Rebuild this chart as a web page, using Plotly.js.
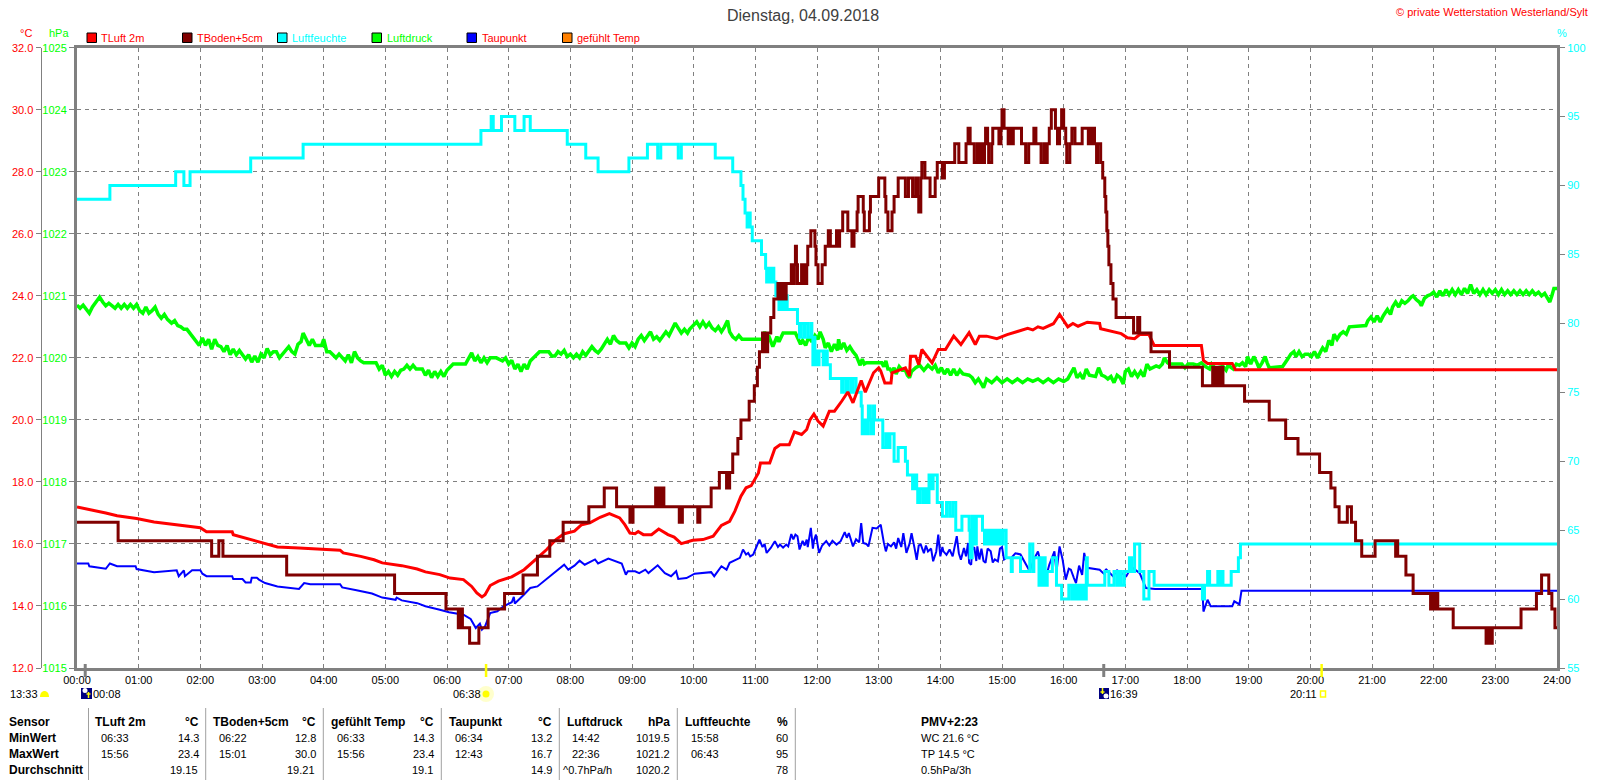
<!DOCTYPE html>
<html>
<head>
<meta charset="utf-8">
<script src="https://cdn.plot.ly/plotly-3.0.1.min.js"></script>
<style>html,body{margin:0;padding:0;background:#fff}#chart{width:1600px;height:780px}</style>
</head>
<body>
<div id="chart"></div>
<script>
// [minute of day, value]
const tBoden = [[0,16.7],[40,16.1],[131,15.6],[138,16.1],[142,15.6],[204,15.0],[309,14.4],[359,13.9],[371,13.3],[372,13.9],[373,13.3],[374,13.9],[375,13.3],[382,12.8],[391,13.3],[400,13.9],[416,14.4],[434,15.0],[448,15.6],[460,16.1],[473,16.7],[498,17.2],[513,17.8],[525,17.2],[538,16.7],[539,17.2],[540,16.7],[541,17.2],[563,17.8],[564,17.2],[565,17.8],[566,17.2],[567,17.8],[568,17.2],[569,17.8],[571,17.2],[586,16.7],[587,17.2],[588,16.7],[589,17.2],[604,16.7],[606,17.2],[617,17.8],[625,18.3],[632,17.8],[633,18.3],[634,17.8],[635,18.3],[638,18.9],[643,19.4],[646,20.0],[654,20.6],[659,21.1],[662,21.7],[664,22.2],[667,22.8],[668,22.2],[669,22.8],[670,22.2],[672,22.8],[675,23.3],[678,23.9],[682,24.4],[684,23.9],[685,24.4],[686,23.9],[687,24.4],[688,23.9],[690,24.4],[695,25.0],[697,24.4],[698,25.0],[699,25.6],[700,25.0],[701,24.4],[705,25.0],[706,24.4],[707,25.0],[709,24.4],[710,25.0],[711,25.6],[714,26.1],[718,25.6],[719,25.0],[721,24.4],[725,25.0],[728,25.6],[731,26.1],[733,25.6],[739,26.1],[741,25.6],[742,26.1],[745,26.7],[750,26.1],[754,25.6],[756,26.1],[759,26.7],[760,27.2],[765,26.7],[766,26.1],[771,26.7],[772,27.2],[780,27.8],[786,27.2],[787,26.7],[789,26.1],[793,26.7],[795,27.2],[799,27.8],[806,27.2],[809,27.8],[813,27.2],[816,27.8],[818,27.2],[819,26.7],[821,27.8],[822,28.3],[825,27.8],[830,27.2],[835,27.8],[837,28.3],[842,27.8],[844,28.3],[854,28.9],[858,28.3],[865,28.9],[867,29.4],[869,28.9],[873,28.3],[876,28.9],[877,28.3],[879,28.9],[881,28.3],[883,28.9],[884,29.4],[886,28.9],[887,28.3],[890,28.9],[891,29.4],[897,28.9],[899,29.4],[900,30.0],[902,29.4],[906,28.9],[907,29.4],[909,28.9],[911,29.4],[919,28.9],[923,28.3],[926,28.9],[931,29.4],[933,28.9],[938,28.3],[941,28.9],[942,28.3],[944,28.9],[946,29.4],[948,30.0],[952,29.4],[954,28.9],[956,29.4],[958,30.0],[960,29.4],[962,28.9],[963,28.3],[966,28.9],[968,29.4],[971,28.9],[978,29.4],[984,28.9],[985,29.4],[987,28.9],[988,29.4],[990,28.9],[992,28.3],[993,28.9],[996,28.3],[998,27.8],[1000,27.2],[1001,26.7],[1002,26.1],[1003,25.6],[1004,25.0],[1006,24.4],[1008,23.9],[1011,23.3],[1028,22.8],[1032,23.3],[1034,22.8],[1045,22.2],[1063,21.7],[1095,21.1],[1105,21.7],[1106,21.1],[1107,21.7],[1108,21.1],[1109,21.7],[1110,21.1],[1111,21.7],[1112,21.1],[1113,21.7],[1115,21.1],[1136,20.6],[1160,20.0],[1176,19.4],[1188,18.9],[1209,18.3],[1220,17.8],[1224,17.2],[1228,16.7],[1236,17.2],[1240,16.7],[1244,16.1],[1250,15.6],[1263,16.1],[1283,15.6],[1284,16.1],[1285,15.6],[1293,15.0],[1300,14.4],[1317,13.9],[1318,14.4],[1319,13.9],[1320,14.4],[1321,13.9],[1322,14.4],[1324,13.9],[1339,13.3],[1371,12.8],[1373,13.3],[1374,12.8],[1375,13.3],[1376,12.8],[1377,13.3],[1405,13.9],[1420,14.4],[1425,15.0],[1432,14.4],[1435,13.9],[1438,13.3],[1440,13.3]];

const tLuft = [[0,17.19],[13,17.11],[28,17.0],[39,16.91],[58,16.82],[75,16.71],[97,16.62],[120,16.52],[126,16.39],[151,16.39],[152,16.3],[164,16.19],[177,16.09],[195,15.9],[216,15.87],[256,15.8],[259,15.71],[276,15.6],[289,15.49],[297,15.39],[316,15.3],[331,15.19],[339,15.1],[353,15.01],[363,14.9],[376,14.85],[384,14.63],[389,14.42],[394,14.29],[397,14.36],[402,14.66],[410,14.8],[423,14.94],[435,15.17],[448,15.55],[457,15.82],[466,16.14],[474,16.33],[484,16.41],[491,16.62],[499,16.68],[509,16.86],[518,16.98],[528,16.84],[533,16.62],[538,16.35],[543,16.33],[546,16.4],[551,16.3],[559,16.3],[566,16.48],[575,16.3],[581,16.22],[588,16.01],[599,16.12],[609,16.14],[619,16.25],[627,16.6],[635,16.73],[640,17.05],[646,17.54],[651,17.81],[656,17.88],[663,18.29],[665,18.61],[674,18.61],[679,19.08],[684,19.2],[693,19.2],[698,19.61],[705,19.53],[710,19.69],[713,19.99],[717,20.19],[721,19.96],[726,19.8],[732,20.28],[737,20.28],[744,20.6],[750,20.9],[755,20.55],[763,21.27],[767,20.89],[775,21.52],[780,21.68],[782,21.58],[786,21.19],[792,21.19],[793,21.52],[806,21.68],[810,21.41],[811,22.05],[816,22.05],[819,21.78],[822,22.27],[827,22.05],[832,21.84],[838,22.27],[845,22.27],[853,22.7],[860,22.43],[868,22.81],[874,22.43],[878,22.7],[885,22.7],[895,22.62],[905,22.75],[915,22.85],[925,22.95],[930,22.9],[935,23.0],[940,22.95],[945,23.02],[950,23.1],[956,23.4],[961,23.13],[964,23.0],[969,23.11],[974,23.02],[983,23.15],[995,23.11],[996,22.94],[1006,22.87],[1016,22.78],[1022,22.65],[1029,22.62],[1034,22.75],[1043,22.75],[1048,22.4],[1094,22.4],[1096,21.92],[1100,21.82],[1124,21.82],[1127,21.62],[1440,21.62]];

const taupunkt = [[0,15.37],[11,15.37],[12,15.28],[28,15.2],[32,15.37],[39,15.28],[57,15.28],[58,15.19],[75,15.09],[97,15.15],[99,14.96],[104,15.15],[105,14.96],[112,15.15],[120,15.15],[122,15.04],[126,14.96],[151,14.96],[152,14.87],[161,14.87],[164,14.76],[169,14.76],[170,14.91],[175,14.91],[177,14.85],[183,14.74],[195,14.63],[216,14.55],[221,14.74],[227,14.7],[256,14.7],[258,14.6],[272,14.51],[287,14.4],[297,14.27],[310,14.2],[311,14.27],[316,14.18],[331,14.09],[339,13.99],[353,13.88],[362,13.8],[376,13.72],[383,13.58],[388,13.29],[392,13.43],[394,13.24],[397,13.34],[402,13.77],[409,13.83],[415,13.99],[423,14.12],[425,14.29],[426,14.08],[435,14.37],[441,14.58],[448,14.63],[457,14.87],[463,15.06],[474,15.33],[478,15.17],[484,15.3],[489,15.46],[494,15.33],[504,15.5],[507,15.37],[517,15.53],[530,15.37],[534,15.01],[536,15.12],[543,15.12],[547,15.06],[553,15.17],[556,15.06],[565,15.31],[572,15.06],[578,14.96],[583,15.12],[585,14.87],[593,14.9],[601,15.04],[609,15.06],[617,15.09],[620,14.96],[627,15.28],[632,15.17],[635,15.39],[645,15.55],[648,15.82],[651,15.66],[653,15.71],[655,15.6],[658,15.66],[664,16.14],[667,15.9],[669,16.0],[671,15.71],[675,15.87],[679,16.09],[682,15.9],[684,15.98],[687,15.88],[690,15.98],[692,15.92],[695,16.32],[697,16.15],[699,16.3],[701,16.25],[703,15.82],[706,16.1],[708,15.95],[710,16.14],[711,15.9],[714,16.52],[716,15.85],[717,16.1],[719,16.3],[722,15.71],[725,15.95],[729,16.09],[732,15.95],[735,16.1],[739,15.98],[743,16.09],[747,16.38],[749,16.2],[751,16.35],[755,15.92],[758,16.15],[761,16.05],[763,16.67],[765,16.03],[768,16.0],[770,15.92],[772,16.2],[774,16.52],[778,16.5],[782,16.62],[785,16.05],[787,15.76],[789,16.0],[792,15.92],[795,16.05],[797,15.85],[799,16.19],[802,15.9],[804,16.35],[807,15.71],[810,16.0],[812,16.35],[815,15.85],[817,15.49],[819,15.95],[821,15.98],[824,15.7],[826,15.95],[828,15.76],[831,15.85],[833,15.44],[836,15.75],[838,16.3],[840,15.6],[842,15.9],[843,15.76],[846,15.65],[849,15.82],[852,15.6],[854,15.95],[856,16.25],[858,15.7],[860,15.49],[863,15.87],[865,15.6],[867,16.03],[868,15.39],[870,15.33],[871,15.8],[873,15.9],[875,15.45],[876,15.92],[878,15.5],[880,15.85],[882,15.45],[884,15.39],[886,15.85],[889,15.76],[891,15.4],[893,15.5],[896,15.44],[898,15.85],[900,15.9],[902,15.5],[904,15.55],[909,15.55],[913,15.7],[918,15.66],[923,15.35],[927,15.12],[931,15.5],[935,15.76],[939,15.2],[943,14.96],[946,15.33],[951,15.76],[953,15.1],[956,15.92],[959,15.49],[962,14.85],[965,15.2],[967,15.17],[970,14.9],[972,14.74],[975,15.3],[978,15.0],[980,15.71],[983,15.23],[995,15.17],[1000,15.01],[1001,15.19],[1008,14.96],[1012,15.15],[1021,14.96],[1026,15.26],[1034,15.06],[1040,14.58],[1049,14.55],[1095,14.55],[1096,13.82],[1100,14.2],[1103,13.99],[1124,13.99],[1126,14.15],[1131,14.05],[1133,14.49],[1440,14.49]];

const luftdruck = [[0,1020.85],[3,1020.80],[6,1020.85],[9,1020.78],[12,1020.72],[15,1020.82],[18,1020.88],[20,1020.93],[22,1020.98],[25,1020.90],[28,1020.84],[31,1020.88],[34,1020.84],[37,1020.80],[40,1020.86],[43,1020.80],[46,1020.86],[49,1020.80],[52,1020.86],[55,1020.80],[58,1020.86],[61,1020.76],[64,1020.72],[67,1020.82],[70,1020.72],[73,1020.76],[76,1020.82],[79,1020.70],[82,1020.64],[85,1020.70],[88,1020.62],[92,1020.56],[95,1020.60],[98,1020.52],[101,1020.50],[104,1020.46],[107,1020.46],[110,1020.40],[113,1020.34],[116,1020.28],[119,1020.20],[122,1020.32],[125,1020.20],[128,1020.30],[131,1020.14],[134,1020.30],[137,1020.20],[140,1020.18],[143,1020.10],[146,1020.20],[149,1020.05],[152,1020.14],[155,1020.05],[158,1020.12],[161,1020.05],[164,1019.98],[167,1020.05],[170,1019.93],[173,1020.03],[176,1019.93],[179,1020.06],[182,1020.0],[185,1020.15],[188,1020.05],[191,1020.10],[194,1020.10],[197,1020.0],[200,1020.06],[203,1020.10],[206,1020.18],[209,1020.10],[212,1020.06],[215,1020.22],[218,1020.26],[220,1020.40],[223,1020.30],[226,1020.20],[229,1020.30],[232,1020.20],[238,1020.20],[240,1020.30],[243,1020.10],[246,1020.10],[249,1020.05],[252,1020.0],[255,1020.06],[258,1020.0],[261,1019.95],[264,1020.05],[267,1019.92],[270,1020.10],[273,1020.0],[276,1019.95],[279,1019.92],[291,1019.92],[294,1019.82],[297,1019.88],[300,1019.72],[303,1019.78],[306,1019.70],[309,1019.78],[312,1019.72],[315,1019.80],[318,1019.82],[321,1019.88],[324,1019.82],[327,1019.88],[330,1019.82],[336,1019.82],[339,1019.72],[342,1019.80],[345,1019.68],[348,1019.78],[351,1019.70],[354,1019.78],[357,1019.70],[360,1019.80],[363,1019.85],[366,1019.90],[378,1019.90],[381,1020.0],[384,1020.08],[387,1019.95],[390,1020.02],[393,1019.92],[396,1020.0],[399,1019.92],[402,1020.0],[408,1020.0],[414,1019.95],[417,1020.0],[420,1019.90],[423,1019.96],[426,1019.82],[429,1019.90],[432,1019.78],[435,1019.90],[438,1019.82],[441,1019.95],[444,1020.0],[447,1020.06],[450,1020.10],[459,1020.10],[462,1020.03],[465,1020.03],[468,1020.10],[471,1020.06],[474,1020.12],[477,1020.02],[480,1020.06],[483,1020.0],[486,1020.06],[489,1020.0],[492,1020.10],[495,1020.04],[498,1020.12],[501,1020.18],[504,1020.12],[507,1020.08],[510,1020.14],[513,1020.22],[516,1020.30],[519,1020.22],[522,1020.36],[525,1020.28],[528,1020.24],[534,1020.24],[537,1020.16],[540,1020.24],[543,1020.18],[546,1020.30],[549,1020.36],[552,1020.28],[555,1020.36],[558,1020.42],[561,1020.30],[564,1020.34],[567,1020.28],[570,1020.36],[573,1020.42],[576,1020.36],[579,1020.46],[582,1020.56],[585,1020.48],[588,1020.40],[591,1020.46],[594,1020.40],[596,1020.46],[600,1020.52],[603,1020.58],[606,1020.50],[609,1020.58],[612,1020.50],[615,1020.56],[618,1020.48],[621,1020.44],[624,1020.50],[627,1020.42],[630,1020.50],[633,1020.60],[635,1020.42],[638,1020.34],[641,1020.30],[644,1020.36],[647,1020.30],[667,1020.30],[669,1020.42],[671,1020.30],[673,1020.36],[675,1020.26],[677,1020.18],[679,1020.26],[681,1020.34],[683,1020.26],[685,1020.34],[687,1020.40],[699,1020.40],[702,1020.30],[704,1020.22],[706,1020.28],[709,1020.20],[712,1020.34],[715,1020.26],[718,1020.36],[721,1020.30],[723,1020.42],[726,1020.30],[728,1020.16],[731,1020.24],[734,1020.10],[737,1020.22],[740,1020.12],[741,1020.30],[743,1020.14],[746,1020.24],[749,1020.12],[752,1020.18],[755,1020.10],[758,1020.04],[760,1019.96],[762,1019.88],[764,1019.98],[766,1019.90],[768,1019.92],[783,1019.92],[785,1019.86],[787,1019.95],[789,1019.82],[791,1019.82],[793,1019.76],[795,1019.84],[797,1019.74],[800,1019.86],[803,1019.80],[806,1019.80],[808,1019.72],[810,1019.68],[812,1019.78],[814,1019.82],[816,1019.84],[820,1019.88],[824,1019.80],[828,1019.88],[832,1019.82],[835,1019.88],[838,1019.76],[841,1019.84],[844,1019.74],[847,1019.82],[850,1019.72],[853,1019.82],[856,1019.72],[859,1019.80],[862,1019.74],[868,1019.72],[871,1019.68],[874,1019.60],[877,1019.66],[880,1019.58],[882,1019.52],[885,1019.66],[890,1019.60],[895,1019.68],[900,1019.60],[905,1019.66],[910,1019.60],[915,1019.66],[920,1019.60],[925,1019.66],[930,1019.62],[935,1019.66],[940,1019.60],[945,1019.66],[950,1019.60],[955,1019.66],[960,1019.62],[964,1019.66],[968,1019.78],[970,1019.84],[973,1019.68],[976,1019.74],[979,1019.66],[982,1019.82],[985,1019.72],[991,1019.70],[994,1019.84],[997,1019.72],[1000,1019.70],[1003,1019.66],[1006,1019.70],[1009,1019.60],[1012,1019.72],[1015,1019.68],[1018,1019.58],[1020,1019.78],[1023,1019.82],[1026,1019.70],[1029,1019.78],[1032,1019.70],[1035,1019.78],[1038,1019.70],[1041,1019.90],[1044,1019.82],[1050,1019.87],[1053,1019.85],[1056,1019.90],[1058,1020.0],[1061,1019.92],[1063,1019.90],[1075,1019.90],[1078,1019.84],[1081,1019.90],[1086,1019.90],[1090,1019.88],[1094,1019.92],[1098,1019.86],[1102,1019.82],[1104,1019.90],[1107,1019.84],[1110,1019.84],[1115,1019.86],[1118,1019.80],[1120,1019.88],[1125,1019.82],[1128,1019.90],[1131,1019.88],[1134,1019.92],[1137,1019.86],[1139,1020.02],[1142,1019.90],[1145,1020.02],[1148,1019.92],[1150,1019.84],[1153,1019.92],[1156,1020.02],[1158,1019.92],[1160,1019.84],[1173,1019.86],[1176,1019.92],[1178,1019.98],[1181,1020.06],[1184,1020.10],[1186,1020.02],[1189,1020.10],[1192,1020.02],[1195,1020.06],[1198,1020.06],[1201,1020.02],[1204,1020.10],[1207,1020.0],[1210,1020.10],[1212,1020.16],[1215,1020.10],[1218,1020.28],[1221,1020.20],[1223,1020.38],[1226,1020.30],[1229,1020.38],[1232,1020.42],[1235,1020.38],[1238,1020.50],[1251,1020.52],[1254,1020.52],[1256,1020.60],[1259,1020.66],[1262,1020.58],[1265,1020.68],[1268,1020.58],[1271,1020.68],[1275,1020.78],[1278,1020.70],[1280,1020.82],[1283,1020.90],[1286,1020.82],[1289,1020.92],[1292,1020.88],[1295,1020.92],[1298,1020.98],[1300,1021.0],[1303,1020.94],[1306,1020.90],[1308,1020.84],[1311,1020.96],[1314,1021.0],[1317,1021.02],[1320,1021.06],[1323,1020.98],[1326,1021.08],[1329,1021.0],[1332,1021.10],[1335,1021.02],[1338,1021.10],[1341,1021.02],[1344,1021.10],[1347,1021.02],[1350,1021.12],[1353,1021.04],[1356,1021.18],[1359,1021.04],[1362,1021.10],[1365,1021.02],[1368,1021.10],[1371,1021.02],[1374,1021.10],[1377,1021.04],[1380,1021.10],[1383,1021.02],[1386,1021.10],[1389,1021.02],[1392,1021.08],[1395,1021.02],[1398,1021.08],[1401,1021.02],[1404,1021.08],[1407,1021.02],[1410,1021.08],[1413,1021.02],[1416,1021.08],[1419,1021.02],[1422,1021.06],[1425,1021.0],[1428,1021.04],[1431,1020.96],[1433,1020.90],[1435,1021.0],[1437,1021.12],[1440,1021.12]];

const luftfeuchte = [[0,89],[32,90],[96,91],[104,90],[110,91],[169,92],[220,93],[393,94],[403,95],[405,94],[413,95],[426,94],[435,95],[441,94],[477,93],[495,92],[507,91],[537,92],[555,93],[565,92],[568,93],[585,92],[588,93],[621,92],[630,92],[638,91],[646,90],[648,89],[650,88],[652,87],[653,88],[655,87],[657,86],[666,85],[670,84],[671,83],[673,84],[675,83],[677,84],[678,83],[680,82],[683,81],[685,82],[687,81],[689,82],[691,81],[701,80],[703,79],[704,80],[707,79],[708,80],[711,79],[714,80],[715,79],[716,77],[717,79],[718,77],[719,78],[720,77],[722,78],[726,77],[728,78],[730,77],[733,76],[744,75],[745,76],[748,75],[750,76],[753,75],[755,76],[758,75],[763,74],[764,72],[766,73],[768,72],[770,74],[772,73],[773,72],[775,74],[776,73],[784,71],[787,72],[789,71],[791,72],[795,70],[799,71],[806,70],[808,69],[813,68],[815,69],[817,68],[818,67],[820,68],[823,67],[825,68],[827,67],[829,69],[831,68],[833,69],[837,67],[842,66],[846,67],[849,66],[852,67],[855,65],[861,66],[868,65],[869,63],[871,66],[873,64],[875,66],[881,65],[883,64],[885,65],[887,64],[889,65],[891,64],[893,65],[895,64],[897,65],[899,64],[901,65],[904,63],[909,62],[910,63],[918,62],[927,64],[930,62],[931,63],[936,61],[937,63],[939,61],[940,63],[942,61],[944,62],[949,63],[953,61],[958,60],[965,61],[968,60],[970,61],[971,60],[973,61],[974,60],[976,61],[977,60],[979,61],[980,60],[982,63],[983,61],[1000,62],[1004,61],[1009,62],[1012,61],[1014,62],[1016,61],[1019,62],[1024,63],[1026,62],[1029,64],[1034,62],[1038,60],[1043,62],[1048,61],[1095,60],[1097,61],[1100,62],[1102,61],[1110,62],[1111,61],[1112,62],[1113,61],[1114,62],[1115,61],[1123,62],[1130,63],[1132,64],[1440,64]];

const seriesNames = ['TLuft 2m','TBoden+5cm','Luftfeuchte','Luftdruck','Taupunkt','gefühlt Temp'];
const seriesColors = ['#ff0000','#800000','#00ffff','#00ff00','#0000ff','#ff8000'];
const nameColors = ['#ff0000','#ff0000','#00ffff','#00ff00','#ff0000','#ff0000'];
const hourTicks = [0,60,120,180,240,300,360,420,480,540,600,660,720,780,840,900,960,1020,1080,1140,1200,1260,1320,1380,1440];
const hourLabels = ['00:00','01:00','02:00','03:00','04:00','05:00','06:00','07:00','08:00','09:00','10:00','11:00','12:00','13:00','14:00','15:00','16:00','17:00','18:00','19:00','20:00','21:00','22:00','23:00','24:00'];
const tempTicks = [12,14,16,18,20,22,24,26,28,30,32];
const tempLabels = ['12.0','14.0','16.0','18.0','20.0','22.0','24.0','26.0','28.0','30.0','32.0'];
const pressTicks = [1015,1016,1017,1018,1019,1020,1021,1022,1023,1024,1025];
const humTicks = [55,60,65,70,75,80,85,90,95,100];
const moonMarks = [8,999];
const sunMarks = [398,1211];

const sensorRows = ['Sensor','MinWert','MaxWert','Durchschnitt'];
const colHeads = ['TLuft 2m','TBoden+5cm','gefühlt Temp','Taupunkt','Luftdruck','Luftfeuchte'];
const colUnits = ['°C','°C','°C','°C','hPa','%'];
const minTimes = ['06:33','06:22','06:33','06:34','14:42','15:58'];
const minVals = ['14.3','12.8','14.3','13.2','1019.5','60'];
const maxTimes = ['15:56','15:01','15:56','12:43','22:36','06:43'];
const maxVals = ['23.4','30.0','23.4','16.7','1021.2','95'];
const avgVals = ['19.15','19.21','19.1','14.9','1020.2','78'];
const extraCol = ['PMV+2:23','WC 21.6 °C','TP 14.5 °C','0.5hPa/3h'];

const W = 1600, H = 780;
const L = 77, R = 1557, T = 47.7, B = 668;
const GREY = '#808080';
const FONT = '"Liberation Sans",Arial,sans-serif';
const TXT = 11;
const px = x => x / W;
const py = y => 1 - y / H;
const xs = a => a.map(p => p[0]);
const ys = a => a.map(p => p[1]);

function note(text, x, y, anchor, color, size, bold) {
  return { text: bold ? '<b>' + text + '</b>' : text, xref: 'paper', yref: 'paper', x: px(x), y: py(y),
    xanchor: anchor, yanchor: 'middle', showarrow: false,
    font: { family: FONT, size: size || TXT, color: color || '#000' },
    borderpad: 0, borderwidth: 0 };
}
function rect(x0, y0, x1, y1, fill, line, lw) {
  return { type: 'rect', xref: 'paper', yref: 'paper', x0: px(x0), x1: px(x1), y0: py(y0), y1: py(y1),
    fillcolor: fill, line: { color: line || fill, width: lw === undefined ? 0 : lw } };
}
function circle(cx, cy, r, fill) {
  return { type: 'circle', xref: 'paper', yref: 'paper', x0: px(cx - r), x1: px(cx + r), y0: py(cy + r), y1: py(cy - r),
    fillcolor: fill, line: { width: 0 } };
}
function seg(x0, y0, x1, y1, c, w) {
  return { type: 'line', xref: 'paper', yref: 'paper', x0: px(x0), x1: px(x1), y0: py(y0), y1: py(y1), line: { color: c, width: w } };
}
function dome(x0, x1, yTop, yBase, fill) {
  const m = (x0 + x1) / 2;
  return { type: 'path', xref: 'paper', yref: 'paper', fillcolor: fill, line: { width: 0 },
    path: `M ${px(x0)} ${py(yBase)} C ${px(x0)} ${py(yTop - 2)} ${px(x1)} ${py(yTop - 2)} ${px(x1)} ${py(yBase)} Z` };
}

const lineTrace = (data, name, color, width, yaxis, shape) => ({
  x: xs(data), y: ys(data), name, yaxis, type: 'scatter', mode: 'lines',
  line: { color, width, shape: shape || 'linear' }, hoverinfo: 'skip'
});

const traces = [
  lineTrace(luftdruck, seriesNames[3], seriesColors[3], 3.5, 'y'),
  lineTrace(taupunkt, seriesNames[4], seriesColors[4], 2, 'y2'),
  lineTrace(luftfeuchte, seriesNames[2], seriesColors[2], 3, 'y3', 'hv'),
  lineTrace(tLuft, seriesNames[0], seriesColors[0], 3, 'y4'),
  lineTrace(tBoden, seriesNames[1], seriesColors[1], 3, 'y4', 'hv')
];

const anns = [];
const shapes = [];

// header
anns.push(note('Dienstag, 04.09.2018', 803, 15, 'center', '#404040', 16));
anns.push(note('© private Wetterstation Westerland/Sylt', 1588, 12, 'right', '#ff0000', 11));
anns.push(note('°C', 20, 33, 'left', '#ff0000'));
anns.push(note('hPa', 49, 33, 'left', '#00ff00'));
anns.push(note('%', 1557, 33, 'left', '#00ffff'));

// legend
const legendSwatchX = [87, 182.5, 277.5, 372, 467, 562.5];
seriesNames.forEach((n, i) => {
  shapes.push(rect(legendSwatchX[i], 33, legendSwatchX[i] + 9.5, 42.5, seriesColors[i], '#000', 1));
  anns.push(note(n, legendSwatchX[i] + 14.5, 38, 'left', nameColors[i]));
});

// sun/moon marks on axis
moonMarks.forEach(m => shapes.push({ type: 'line', xref: 'x', yref: 'paper', x0: m, x1: m, y0: py(664), y1: py(677), line: { color: GREY, width: 3 } }));
sunMarks.forEach(m => shapes.push({ type: 'line', xref: 'x', yref: 'paper', x0: m, x1: m, y0: py(664), y1: py(677), line: { color: '#ffff00', width: 2.5 } }));

// sun/moon legend row
anns.push(note('13:33', 10, 694, 'left'));
shapes.push(dome(40, 49, 691, 697, '#ffff00'));
shapes.push(rect(81, 688, 92, 699, '#000080'));
shapes.push(circle(85, 690.5, 2.5, '#ffffff'));
shapes.push(seg(88.5, 698, 88.5, 692, '#ffff00', 1.5));
shapes.push(seg(86.5, 694, 90.5, 694, '#ffff00', 1.5));
anns.push(note('00:08', 92.5, 694, 'left'));
anns.push(note('06:38', 453, 694, 'left'));
shapes.push(circle(486, 694, 8, '#ffffcc'));
shapes.push(circle(486, 694, 3.5, '#ffff00'));
shapes.push(rect(1099, 688, 1109, 699, '#000080'));
shapes.push(circle(1106, 696, 2.5, '#ffffff'));
shapes.push(seg(1102.5, 688, 1102.5, 694, '#ffff00', 1.5));
shapes.push(seg(1100.5, 692, 1104.5, 692, '#ffff00', 1.5));
anns.push(note('16:39', 1110, 694, 'left'));
anns.push(note('20:11', 1290, 694, 'left'));
shapes.push(rect(1320.5, 691, 1325.5, 697, '#ffffff', '#ffff00', 1.5));

// table
const rowY = [721.7, 738, 754, 769.7];
const sepX = [88.5, 205.7, 323.3, 441.3, 559.3, 677.3, 795.3];
sepX.forEach(x => shapes.push(seg(x, 708, x, 780, '#a0a0a0', 1)));
sensorRows.forEach((s, i) => anns.push(note(s, 8.7, rowY[i], 'left', '#000', 12, true)));
const headX = [95, 213, 331, 449, 566.7, 684.7];
const rightX = [198.7, 316.3, 434.3, 552.3, 670.3, 788.3];
const timeX = [100.7, 218.7, 336.7, 454.7, 572.3, 690.7];
colHeads.forEach((h, i) => {
  anns.push(note(h, headX[i], rowY[0], 'left', '#000', 12, true));
  anns.push(note(colUnits[i], rightX[i], rowY[0], 'right', '#000', 12, true));
  anns.push(note(minTimes[i], timeX[i], rowY[1], 'left'));
  anns.push(note(minVals[i], rightX[i], rowY[1], 'right'));
  anns.push(note(maxTimes[i], timeX[i], rowY[2], 'left'));
  anns.push(note(maxVals[i], rightX[i], rowY[2], 'right'));
  anns.push(note(avgVals[i], rightX[i] - (i < 3 ? 1 : 0), rowY[3], 'right'));
});
anns.push(note('^0.7hPa/h', 562.7, rowY[3], 'left'));
extraCol.forEach((t, i) => anns.push(note(t, 920.5, rowY[i], 'left', '#000', i === 0 ? 12 : TXT, i === 0)));

const tickFont = c => ({ family: FONT, size: TXT, color: c });
const yDomain = [py(B), py(T)];
const layout = {
  width: W, height: H, autosize: false, showlegend: false,
  paper_bgcolor: '#fff', plot_bgcolor: '#fff',
  margin: { l: 0, r: 0, t: 0, b: 0, pad: 0 },
  xaxis: { domain: [px(L), px(R)], range: [0, 1440], tickmode: 'array', tickvals: hourTicks, ticktext: hourLabels,
    tickfont: tickFont('#000'), ticks: '', ticklen: 0, showgrid: true, gridcolor: GREY, griddash: '4px,4px', gridwidth: 1,
    showline: true, linecolor: GREY, linewidth: 3, mirror: true, zeroline: false, fixedrange: true, automargin: false },
  yaxis: { domain: yDomain, range: [1015, 1025], tickmode: 'array', tickvals: pressTicks, ticktext: pressTicks.map(String),
    tickfont: tickFont('#00ff00'), ticks: 'outside', ticklen: 5, tickcolor: GREY, tickwidth: 1,
    showgrid: true, gridcolor: GREY, griddash: '4px,4px', gridwidth: 1, zeroline: false,
    showline: true, linecolor: GREY, linewidth: 3, fixedrange: true, automargin: false, anchor: 'x' },
  yaxis2: { domain: yDomain, range: [12, 32], overlaying: 'y', anchor: 'free', position: px(40.5), side: 'left',
    tickmode: 'array', tickvals: tempTicks, ticktext: tempLabels, tickfont: tickFont('#ff0000'),
    ticks: 'outside', ticklen: 5, tickcolor: GREY, tickwidth: 1, showgrid: false, zeroline: false,
    showline: true, linecolor: GREY, linewidth: 1.5, fixedrange: true, automargin: false },
  yaxis3: { domain: yDomain, range: [55, 100], overlaying: 'y', anchor: 'x', side: 'right',
    tickmode: 'array', tickvals: humTicks, ticktext: humTicks.map(String), tickfont: tickFont('#00ffff'),
    ticks: 'outside', ticklen: 5, tickcolor: GREY, tickwidth: 1, showgrid: false, zeroline: false,
    showline: true, linecolor: GREY, linewidth: 3, fixedrange: true, automargin: false },
  yaxis4: { domain: yDomain, range: [12, 32], overlaying: 'y', anchor: 'x', side: 'left', visible: false, fixedrange: true },
  annotations: anns,
  shapes: shapes
};

Plotly.newPlot('chart', traces, layout, { displayModeBar: false, staticPlot: true });
</script>
</body>
</html>
